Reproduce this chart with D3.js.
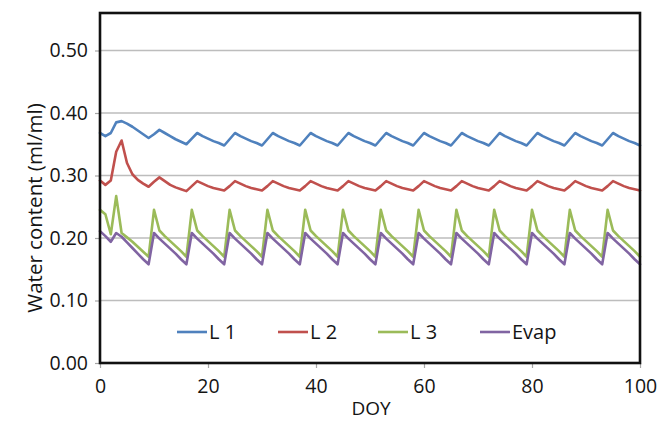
<!DOCTYPE html>
<html>
<head>
<meta charset="utf-8">
<script src="https://cdn.jsdelivr.net/npm/d3@7"></script>
<style>
  html, body { margin: 0; padding: 0; background: #fff; }
  svg { display: block; }
  text { font-family: "Open Sans", "Liberation Sans", sans-serif; fill: #141414; }
</style>
</head>
<body>
<svg id="chart" width="672" height="421"></svg>
<script>
// ---- data ----
const doy = d3.range(0, 101);
const seriesNames = ["L 1", "L 2", "L 3", "Evap"];
const seriesColors = ["#4f81bd", "#c0504d", "#9bbb59", "#8064a2"];
const yTickValues = [0.00, 0.10, 0.20, 0.30, 0.40, 0.50];
const xTickValues = [0, 20, 40, 60, 80, 100];

const L1 = [
  0.368, 0.363, 0.368, 0.385, 0.387, 0.383, 0.378, 0.372, 0.366, 0.360,
  0.366, 0.373, 0.368, 0.363, 0.358, 0.354, 0.350,
  0.359, 0.368, 0.363, 0.359, 0.355, 0.352, 0.348,
  0.358, 0.368, 0.363, 0.359, 0.355, 0.352, 0.348,
  0.358, 0.368, 0.363, 0.359, 0.355, 0.352, 0.348,
  0.358, 0.368, 0.363, 0.359, 0.355, 0.352, 0.348,
  0.358, 0.368, 0.363, 0.359, 0.355, 0.352, 0.348,
  0.358, 0.368, 0.363, 0.359, 0.355, 0.352, 0.348,
  0.358, 0.368, 0.363, 0.359, 0.355, 0.352, 0.348,
  0.358, 0.368, 0.363, 0.359, 0.355, 0.352, 0.348,
  0.358, 0.368, 0.363, 0.359, 0.355, 0.352, 0.348,
  0.358, 0.368, 0.363, 0.359, 0.355, 0.352, 0.348,
  0.358, 0.368, 0.363, 0.359, 0.355, 0.352, 0.348,
  0.358, 0.368, 0.363, 0.359, 0.355, 0.352, 0.348
];
const L2 = [
  0.292, 0.285, 0.292, 0.338, 0.356, 0.320, 0.302, 0.293, 0.287, 0.282,
  0.290, 0.297, 0.291, 0.285, 0.281, 0.278, 0.275,
  0.283, 0.291, 0.287, 0.283, 0.280, 0.278, 0.276,
  0.283, 0.291, 0.287, 0.283, 0.280, 0.278, 0.276,
  0.283, 0.291, 0.287, 0.283, 0.280, 0.278, 0.276,
  0.283, 0.291, 0.287, 0.283, 0.280, 0.278, 0.276,
  0.283, 0.291, 0.287, 0.283, 0.280, 0.278, 0.276,
  0.283, 0.291, 0.287, 0.283, 0.280, 0.278, 0.276,
  0.283, 0.291, 0.287, 0.283, 0.280, 0.278, 0.276,
  0.283, 0.291, 0.287, 0.283, 0.280, 0.278, 0.276,
  0.283, 0.291, 0.287, 0.283, 0.280, 0.278, 0.276,
  0.283, 0.291, 0.287, 0.283, 0.280, 0.278, 0.276,
  0.283, 0.291, 0.287, 0.283, 0.280, 0.278, 0.276,
  0.283, 0.291, 0.287, 0.283, 0.280, 0.278, 0.276
];
const L3 = [
  0.245, 0.238, 0.206, 0.267, 0.208, 0.201, 0.194, 0.186, 0.178, 0.170,
  0.245, 0.212, 0.203, 0.195, 0.187, 0.179, 0.170,
  0.245, 0.212, 0.203, 0.195, 0.187, 0.179, 0.170,
  0.245, 0.212, 0.203, 0.195, 0.187, 0.179, 0.170,
  0.245, 0.212, 0.203, 0.195, 0.187, 0.179, 0.170,
  0.245, 0.212, 0.203, 0.195, 0.187, 0.179, 0.170,
  0.245, 0.212, 0.203, 0.195, 0.187, 0.179, 0.170,
  0.245, 0.212, 0.203, 0.195, 0.187, 0.179, 0.170,
  0.245, 0.212, 0.203, 0.195, 0.187, 0.179, 0.170,
  0.245, 0.212, 0.203, 0.195, 0.187, 0.179, 0.170,
  0.245, 0.212, 0.203, 0.195, 0.187, 0.179, 0.170,
  0.245, 0.212, 0.203, 0.195, 0.187, 0.179, 0.170,
  0.245, 0.212, 0.203, 0.195, 0.187, 0.179, 0.170,
  0.245, 0.212, 0.203, 0.195, 0.187, 0.179, 0.170
];
const Evap = [
  0.211, 0.203, 0.194, 0.208, 0.202, 0.193, 0.184, 0.175, 0.166, 0.158,
  0.208, 0.199, 0.191, 0.183, 0.175, 0.166, 0.158,
  0.208, 0.199, 0.191, 0.183, 0.175, 0.166, 0.158,
  0.208, 0.199, 0.191, 0.183, 0.175, 0.166, 0.158,
  0.208, 0.199, 0.191, 0.183, 0.175, 0.166, 0.158,
  0.208, 0.199, 0.191, 0.183, 0.175, 0.166, 0.158,
  0.208, 0.199, 0.191, 0.183, 0.175, 0.166, 0.158,
  0.208, 0.199, 0.191, 0.183, 0.175, 0.166, 0.158,
  0.208, 0.199, 0.191, 0.183, 0.175, 0.166, 0.158,
  0.208, 0.199, 0.191, 0.183, 0.175, 0.166, 0.158,
  0.208, 0.199, 0.191, 0.183, 0.175, 0.166, 0.158,
  0.208, 0.199, 0.191, 0.183, 0.175, 0.166, 0.158,
  0.208, 0.199, 0.191, 0.183, 0.175, 0.166, 0.158,
  0.208, 0.199, 0.191, 0.183, 0.175, 0.166, 0.158
];
const seriesValues = [L1, L2, L3, Evap];

// ---- layout ----
const svg = d3.select("#chart");
const plotLeft = 100, plotRight = 640, plotTop = 13, plotBottom = 363;
const x = d3.scaleLinear().domain([0, 100]).range([plotLeft, plotRight]);
const y = d3.scaleLinear().domain([0, 0.5]).range([plotBottom, 50.5]);

// gridlines
svg.append("g")
  .selectAll("line")
  .data(yTickValues.filter(d => d > 0))
  .join("line")
  .attr("x1", plotLeft).attr("x2", plotRight)
  .attr("y1", d => y(d)).attr("y2", d => y(d))
  .attr("stroke", "#bdbdbd").attr("stroke-width", 1.5);

// y axis
const yAxis = svg.append("g")
  .attr("transform", `translate(${plotLeft},0)`)
  .call(d3.axisLeft(y).tickValues(yTickValues).tickFormat(d3.format(".2f")).tickSize(5).tickPadding(7));
yAxis.select(".domain").remove();
yAxis.selectAll(".tick line").attr("stroke", "#a6a6a6").attr("stroke-width", 1.2);
yAxis.selectAll(".tick text").attr("font-size", 19.5).attr("font-family", "Open Sans").attr("fill", "#141414");

// x axis
const xAxis = svg.append("g")
  .attr("transform", `translate(0,${plotBottom})`)
  .call(d3.axisBottom(x).tickValues(xTickValues).tickSize(5).tickPadding(11));
xAxis.select(".domain").remove();
xAxis.selectAll(".tick line").attr("stroke", "#a6a6a6").attr("stroke-width", 1.2);
xAxis.selectAll(".tick text").attr("font-size", 19.5).attr("font-family", "Open Sans").attr("fill", "#141414");

// series lines
const line = d3.line().x((d, i) => x(doy[i])).y(d => y(d));
svg.append("g")
  .selectAll("path")
  .data(seriesValues)
  .join("path")
  .attr("d", d => line(d))
  .attr("fill", "none")
  .attr("stroke", (d, i) => seriesColors[i])
  .attr("stroke-width", 2.6)
  .attr("stroke-linejoin", "round")
  .attr("stroke-linecap", "round");

// plot border
svg.append("rect")
  .attr("x", plotLeft).attr("y", plotTop)
  .attr("width", plotRight - plotLeft).attr("height", plotBottom - plotTop)
  .attr("fill", "none").attr("stroke", "#111").attr("stroke-width", 2.6);

// legend
const legendX = [177, 278, 378, 480];
const legendY = 332;
const lg = svg.append("g");
seriesNames.forEach((name, i) => {
  lg.append("line")
    .attr("x1", legendX[i]).attr("x2", legendX[i] + 30)
    .attr("y1", legendY).attr("y2", legendY)
    .attr("stroke", seriesColors[i]).attr("stroke-width", 2.6);
  lg.append("text")
    .attr("x", legendX[i] + 32).attr("y", legendY)
    .attr("dy", "0.36em")
    .attr("font-size", 20)
    .text(name);
});

// axis titles
svg.append("text")
  .attr("transform", "translate(42,208) rotate(-90)")
  .attr("text-anchor", "middle")
  .attr("font-size", 20.5)
  .text("Water content (ml/ml)");
svg.append("text")
  .attr("x", 371).attr("y", 415)
  .attr("text-anchor", "middle")
  .attr("font-size", 19)
  .text("DOY");
</script>
</body>
</html>
